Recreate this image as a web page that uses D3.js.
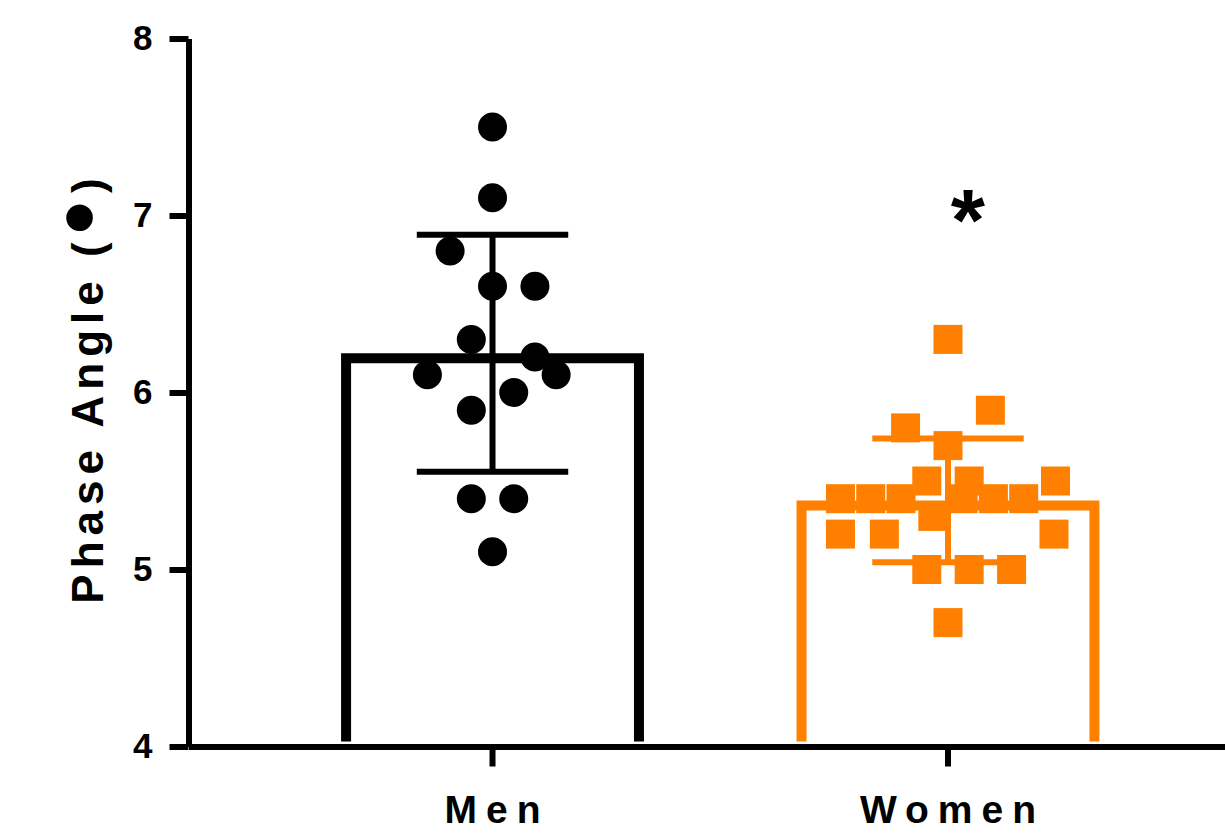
<!DOCTYPE html>
<html>
<head>
<meta charset="utf-8">
<script src="https://cdn.jsdelivr.net/npm/d3@7"></script>
<style>
  body { margin: 0; background: #fff; }
  text { font-family: "Liberation Sans", Arial, sans-serif; font-weight: bold; }
</style>
</head>
<body>
<script>
var svgWidth = 1225;
var svgHeight = 834;

// groups and values
var groups = ["Men", "Women"];
var groupColors = ["#000000", "#ff8000"];
var menValues = [7.5, 7.1, 6.8, 6.6, 6.6, 6.3, 6.2, 6.1, 6.1, 6.0, 5.9, 5.4, 5.4, 5.1];
// horizontal scatter of each point, as a fraction of half the bar width
var menSpread = [0, 0, -0.28, 0, 0.28, -0.14, 0.28, -0.43, 0.42, 0.14, -0.14, -0.14, 0.14, 0];
var womenValues = [6.3, 5.9, 5.8, 5.7, 5.5, 5.5, 5.5, 5.4, 5.4, 5.4, 5.4, 5.4, 5.4, 5.3, 5.2, 5.2, 5.2, 5.0, 5.0, 5.0, 4.7];
var womenSpread = [0, 0.28, -0.28, 0, -0.14, 0.14, 0.71, -0.71, -0.51, -0.31, 0.10, 0.30, 0.50, -0.10, -0.71, -0.42, 0.70, -0.14, 0.14, 0.42, 0];
var yTicks = [4, 5, 6, 7, 8];
var yDomain = [4, 8];
var starGroup = "Women";
var starValue = 7.05;
var yTitle = "Phase Angle (";

var svg = d3.select("body").append("svg")
    .attr("width", svgWidth)
    .attr("height", svgHeight);

var xScale = d3.scaleBand()
    .domain(groups)
    .range([188.5, 1252])
    .padding(0.335);

var yScale = d3.scaleLinear()
    .domain(yDomain)
    .range([746.5, 38.5]);

var spread = d3.scaleLinear()
    .domain([-1, 1])
    .range([-xScale.bandwidth() / 2, xScale.bandwidth() / 2]);

var series = [
    { name: "Men", values: menValues, spread: menSpread, color: groupColors[0] },
    { name: "Women", values: womenValues, spread: womenSpread, color: groupColors[1] }
];
series.forEach(function(s) {
    s.mean = d3.mean(s.values);
    s.sd = d3.deviation(s.values);
    s.cx = xScale(s.name) + xScale.bandwidth() / 2;
});

var barStroke = 10;

// open bars (no bottom edge), outer edge on the mean
svg.selectAll(".bar")
    .data(series)
    .enter()
    .append("path")
    .attr("class", "bar")
    .attr("fill", "none")
    .attr("stroke", function(d) { return d.color; })
    .attr("stroke-width", barStroke)
    .attr("d", function(d) {
        var x0 = xScale(d.name) + barStroke / 2;
        var x1 = xScale(d.name) + xScale.bandwidth() - barStroke / 2;
        var yt = yScale(d.mean) + barStroke / 2;
        var yb = yScale(yDomain[0]) - 5;
        return "M" + x0 + "," + yb + "V" + yt + "H" + x1 + "V" + yb;
    });

// error bars (mean +/- SD)
var err = svg.selectAll(".err")
    .data(series)
    .enter()
    .append("g")
    .attr("class", "err")
    .attr("stroke", function(d) { return d.color; })
    .attr("stroke-width", 6);

err.append("line")
    .attr("x1", function(d) { return d.cx; })
    .attr("x2", function(d) { return d.cx; })
    .attr("y1", function(d) { return yScale(d.mean + d.sd); })
    .attr("y2", function(d) { return yScale(d.mean - d.sd); });

[1, -1].forEach(function(sign) {
    err.append("line")
        .attr("x1", function(d) { return d.cx - xScale.bandwidth() / 4; })
        .attr("x2", function(d) { return d.cx + xScale.bandwidth() / 4; })
        .attr("y1", function(d) { return yScale(d.mean + sign * d.sd); })
        .attr("y2", function(d) { return yScale(d.mean + sign * d.sd); });
});

// points
var menPts = menValues.map(function(v, i) { return { v: v, s: menSpread[i] }; });
var womenPts = womenValues.map(function(v, i) { return { v: v, s: womenSpread[i] }; });

svg.selectAll(".men")
    .data(menPts)
    .enter()
    .append("circle")
    .attr("class", "men")
    .attr("cx", function(d) { return series[0].cx + spread(d.s); })
    .attr("cy", function(d) { return yScale(d.v); })
    .attr("r", 14.5)
    .attr("fill", series[0].color);

var sq = 29;
svg.selectAll(".women")
    .data(womenPts)
    .enter()
    .append("rect")
    .attr("class", "women")
    .attr("x", function(d) { return series[1].cx + spread(d.s) - sq / 2; })
    .attr("y", function(d) { return yScale(d.v) - sq / 2; })
    .attr("width", sq)
    .attr("height", sq)
    .attr("fill", series[1].color);

// axes
var xAxis = svg.append("g")
    .attr("transform", "translate(0," + yScale(yDomain[0]) + ")")
    .call(d3.axisBottom(xScale).tickSize(20).tickSizeOuter(0).tickPadding(28.5));

var yAxis = svg.append("g")
    .attr("transform", "translate(" + xScale.range()[0] + ",0)")
    .call(d3.axisLeft(yScale).tickValues(yTicks).tickSize(19).tickSizeOuter(0).tickPadding(17).tickFormat(d3.format("d")));

[xAxis, yAxis].forEach(function(a) {
    a.select(".domain").attr("stroke", "#000").attr("stroke-width", 6);
    a.selectAll(".tick line").attr("stroke", "#000").attr("stroke-width", 6);
});

xAxis.selectAll(".tick text")
    .attr("fill", "#000")
    .style("font-size", "39px")
    .style("letter-spacing", "9px")
    .attr("dx", "4.5px");

yAxis.selectAll(".tick text")
    .attr("fill", "#000")
    .style("font-size", "35px");

// y axis title
var title = svg.append("text")
    .attr("transform", "translate(103,391.5) rotate(-90)")
    .attr("text-anchor", "middle")
    .attr("dx", "3.5px")
    .style("font-size", "44px")
    .style("letter-spacing", "6px")
    .attr("fill", "#000");
title.append("tspan").text(yTitle);
title.append("tspan").attr("dy", "-6px").style("font-size", "62px").text("\u25CF");
title.append("tspan").attr("dy", "6px").text(")");

// significance mark
svg.append("text")
    .attr("x", xScale(starGroup) + xScale.bandwidth() / 2 + 20)
    .attr("y", yScale(starValue) + 43)
    .attr("text-anchor", "middle")
    .style("font-size", "88px")
    .attr("fill", "#000")
    .text("*");
</script>
</body>
</html>
